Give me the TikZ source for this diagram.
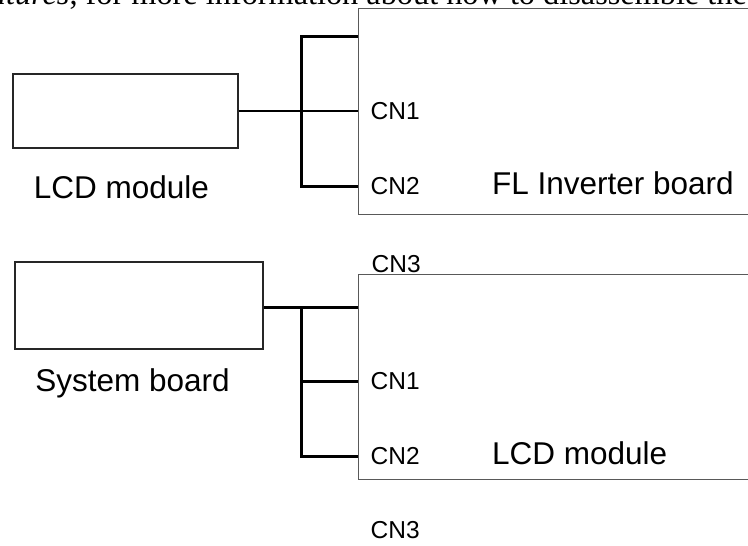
\documentclass[tikz,border=0pt]{standalone}
\usepackage{fontspec}
\setmainfont{Liberation Sans}
\newfontfamily\pageserif{Liberation Serif}
\usepackage{tikz}
\usetikzlibrary{calc}
\usetikzlibrary{positioning}
\tikzstyle{block} = [draw=black!85,line width=1.2pt,rectangle,inner sep=0pt]
\tikzstyle{board} = [draw=black!65,line width=1pt,rectangle,inner sep=0pt,minimum width=412pt]
\tikzstyle{connector} = [line width=2.2pt]
\tikzstyle{boardname} = [inner sep=0pt,font=\fontsize{31.5}{36}\selectfont]
\tikzstyle{cnlabel} = [inner sep=0pt,font=\fontsize{24.5}{28}\selectfont]

\begin{document}
\begin{tikzpicture}[x=1pt,y=-1pt]
	\path[use as bounding box,clip] (0,0) rectangle (748,546);

	\node[anchor=base east,inner sep=0pt,font=\pageserif\fontsize{32.3}{36}\selectfont] (pagetext) at (747,5)
		{\textit{atures}, for more information about how to disassemble the};

	% top half
	\node[block,minimum width=225pt,minimum height=74pt] (lcdA) at (125.5,111) {};
	\node[boardname,below=27pt of lcdA,xshift=-4pt] (lcdAname) {LCD module};

	\node[board,minimum height=206pt] (fl) at (564,111) {};
	\coordinate (fl1) at ($(fl.north west)+(0,29)$);
	\coordinate (fl2) at (fl.west);
	\coordinate (fl3) at ($(fl.north west)+(0,179)$);
	\coordinate (busA) at ($(fl3)+(-56,0)$);

	\node[cnlabel,right=13pt of fl2] (cn1a) {CN1};
	\node[cnlabel,right=13pt of fl3] (cn2a) {CN2};
	\node[boardname,base right=72pt of cn2a] (flname) {FL Inverter board};

	% bottom half
	\node[block,minimum width=248pt,minimum height=87pt] (sys) at (139,305.5) {};
	\node[boardname,below=19pt of sys,xshift=-6.5pt] (sysname) {System board};

	\node[board,minimum height=205pt] (lcdB) at (564,376.5) {};
	\coordinate (lcdB1) at ($(lcdB.north west)+(0,34)$);
	\coordinate (lcdB2) at ($(lcdB.north west)+(0,108)$);
	\coordinate (lcdB3) at ($(lcdB.north west)+(0,183)$);
	\coordinate (busB) at ($(lcdB3)+(-56,0)$);

	\node[cnlabel,anchor=base west] (cn3a) at ($(lcdB.north west)+(14,-1)$) {CN3};
	\node[cnlabel,right=13pt of lcdB2] (cn1b) {CN1};
	\node[cnlabel,right=13pt of lcdB3] (cn2b) {CN2};
	\node[cnlabel,below=56pt of cn2b] (cn3b) {CN3};
	\node[boardname,base right=72pt of cn2b] (lcdBname) {LCD module};

	% now link the nodes
	\draw[connector] (lcdA.east) -- (fl2);
	\draw[connector] (fl1) -| (busA) |- (fl3);
	\draw[connector] (sys.east |- lcdB1) -- (lcdB1);
	\draw[connector] (lcdB1) -| (busB) |- (lcdB3);
	\draw[connector] (busB |- lcdB2) -- (lcdB2);
\end{tikzpicture}
\end{document}
